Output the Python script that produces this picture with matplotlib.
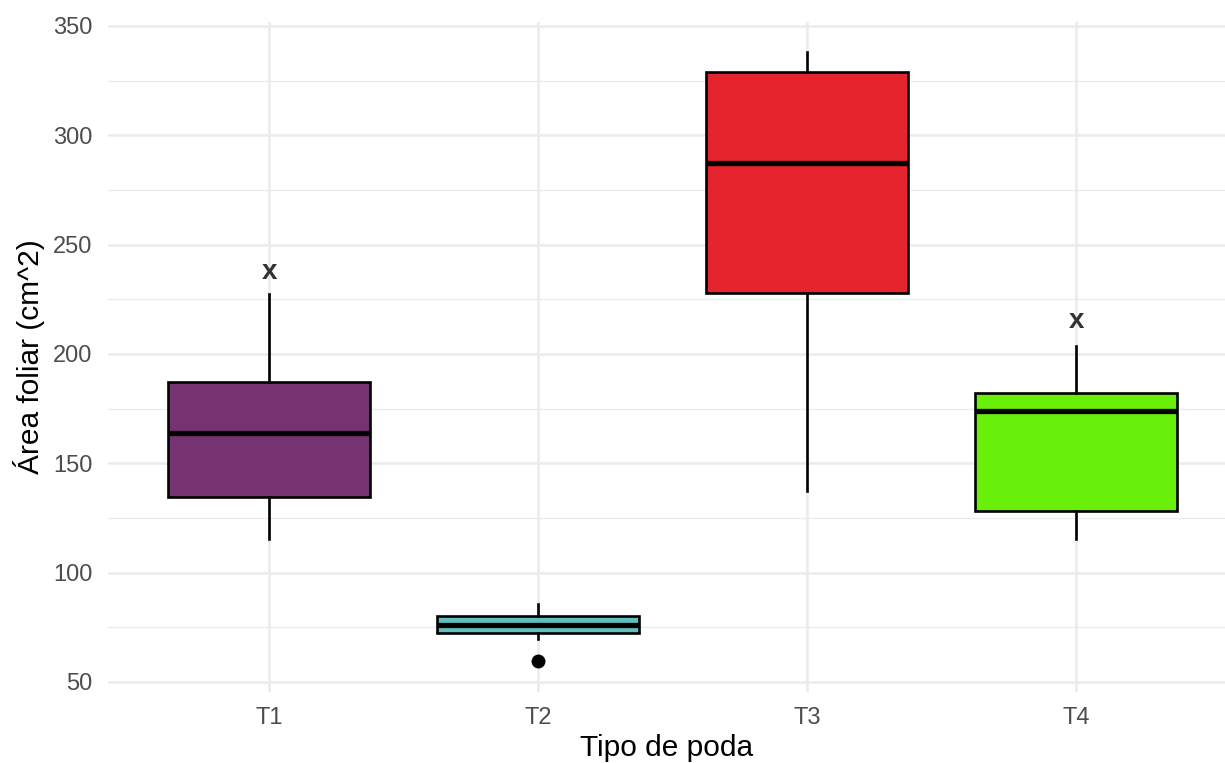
import matplotlib.pyplot as plt
from matplotlib.ticker import MultipleLocator

plt.rcParams['font.family'] = ['Liberation Sans', 'DejaVu Sans']

categorias = ['T1', 'T2', 'T3', 'T4']
whislo = [115.5, 69.5, 137.5, 115.5]
q1 = [134.5, 72.3, 228.0, 128.3]
mediana = [164.0, 76.0, 287.5, 174.0]
q3 = [187.2, 80.0, 329.0, 182.0]
whishi = [227.5, 85.5, 338.0, 203.5]
atipicos = [[], [59.5], [], []]
colores = ['#763271', '#5fbfbf', '#e5242e', '#68ef0a']
# marcas "x" sobre algunas cajas
marca_x = [1, 4]
marca_y = [237.5, 215.0]

fig = plt.figure(figsize=(12.25, 7.63), dpi=100)
ax = fig.add_axes([107.6 / 1225, 1 - 691.6 / 763, 1 - 107.6 / 1225, (691.6 - 21.8) / 763])

stats = []
for i, c in enumerate(categorias):
    stats.append(dict(label=c, whislo=whislo[i], q1=q1[i], med=mediana[i],
                      q3=q3[i], whishi=whishi[i], fliers=atipicos[i]))

bp = ax.bxp(stats, positions=range(1, 5), widths=0.75, patch_artist=True,
            showcaps=False, manage_ticks=False,
            boxprops=dict(edgecolor='black', linewidth=1.9),
            medianprops=dict(color='black', linewidth=3.8, solid_capstyle='butt'),
            whiskerprops=dict(color='black', linewidth=1.9),
            flierprops=dict(marker='o', markerfacecolor='black', markeredgecolor='black',
                            markersize=9))
for patch, col in zip(bp['boxes'], colores):
    patch.set_facecolor(col)
    patch.set_zorder(3)
for k in ['whiskers', 'medians', 'fliers']:
    for a in bp[k]:
        a.set_zorder(3)
for m in bp['medians']:
    m.set_zorder(4)

for x, y in zip(marca_x, marca_y):
    ax.text(x, y, 'x', ha='center', va='center', fontsize=20, fontweight='bold',
            color='#333333', zorder=5)

ax.set_xlim(0.4, 4.6 - 12.4 / 269)
ax.set_ylim(45.6, 351.9)
ax.set_xticks(range(1, 5))
ax.set_xticklabels(categorias)
ax.yaxis.set_minor_locator(MultipleLocator(25))
ax.set_yticks([50, 100, 150, 200, 250, 300, 350])

ax.grid(which='major', color='#ebebeb', linewidth=1.8)
ax.grid(which='minor', axis='y', color='#ebebeb', linewidth=0.9)
ax.set_axisbelow(True)
for s in ax.spines.values():
    s.set_visible(False)
ax.tick_params(which='both', length=0, labelsize=17, labelcolor='#4d4d4d')
ax.tick_params(axis='x', pad=11)
ax.tick_params(axis='y', pad=11)

ax.set_xlabel('Tipo de poda', fontsize=21.5, labelpad=4)
ax.set_ylabel('Área foliar (cm^2)', fontsize=21.5, labelpad=6)

fig.savefig('out.png', dpi=100)
